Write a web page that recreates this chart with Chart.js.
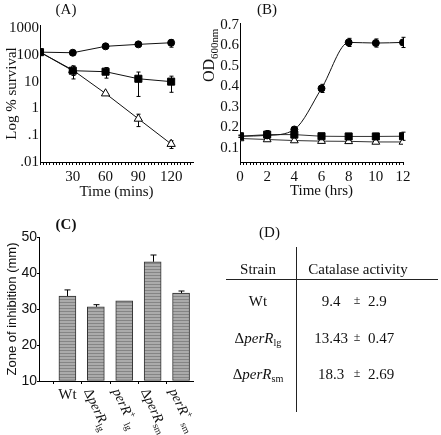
<!DOCTYPE html>
<html>
<head>
<meta charset="utf-8">
<script src="https://cdn.jsdelivr.net/npm/chart.js@4"></script>
<style>
  body { margin: 0; background: #fff; }
  #fig { position: relative; width: 441px; height: 435px; overflow: hidden; background: #fff; }
  #fig canvas { position: absolute; }
  .txt { position: absolute; white-space: nowrap; font: 15px "Liberation Serif", "Times New Roman", serif; color: #111; line-height: 1; }
  .txt sub, .txt sup { font-size: 0.68em; line-height: 0; position: relative; vertical-align: baseline; }
  .txt sub { top: 0.3em; }
  .txt sup { top: -0.45em; }
  .rule { position: absolute; background: #222; }
</style>
</head>
<body>
<div id="fig">
  <canvas id="chartA" width="220" height="210" style="left:0;top:0"></canvas>
  <canvas id="chartB" width="241" height="210" style="left:200px;top:0"></canvas>
  <canvas id="chartC" width="220" height="225" style="left:0;top:210px"></canvas>
  <div id="panelD"></div>
</div>
<script>
const SERIF = '"Liberation Serif", "Times New Roman", serif';
const SANS = '"Liberation Sans", Arial, sans-serif';

// (A) survival, log scale
const timeMins = [0, 30, 60, 90, 120];
const survCircle = [126, 120, 208, 246, 283];
const survCircleErr = [0, 0, 0, 0, 90];
const survSquare = [126, 25.6, 23.5, 12.8, 10];
const survSquareErr = [0, 13, 10, 10, 6];
const survTriangle = [126, 27, 3.6, 0.41, 0.047];
const survTriangleErr = [0, 10, 0, 0.2, 0.015];
const survTicks = [0.01, 0.1, 1, 10, 100, 1000];
const survTickLabels = ['.01', '.1', '1', '10', '100', '1000'];
const minsTickLabels = [30, 60, 90, 120];

// (B) growth curve
const timeHrs = [0, 2, 4, 6, 8, 10, 12];
const odCircle = [0.156, 0.16, 0.189, 0.39, 0.615, 0.612, 0.615];
const odCircleErr = [0.005, 0.02, 0.01, 0.02, 0.02, 0.02, 0.025];
const odSquare = [0.156, 0.164, 0.164, 0.156, 0.155, 0.155, 0.156];
const odSquareErr = [0.005, 0.02, 0.005, 0.005, 0.005, 0.015, 0.02];
const odTriangle = [0.145, 0.14, 0.135, 0.132, 0.131, 0.128, 0.128];
const odTicks = [0.1, 0.2, 0.3, 0.4, 0.5, 0.6, 0.7];
const hrsTickLabels = [0, 2, 4, 6, 8, 10, 12];

// (C) zone of inhibition
const zoneStrains = [
  [['Wt', 'r']],
  [['Δ', 'r'], ['perR', 'i'], ['lg', 'sub']],
  [['perR', 'i'], ['+', 'sup'], [' lg', 'sub']],
  [['Δ', 'r'], ['perR', 'i'], ['sm', 'sub']],
  [['perR', 'i'], ['+', 'sup'], [' sm', 'sub']],
];
const zoneMeans = [33.6, 30.6, 32.3, 43.1, 34.4];
const zoneErr = [1.7, 0.6, 0, 1.9, 0.6];
const zoneTicks = [10, 20, 30, 40, 50];

// (D) catalase table
const catStrains = [
  [['Wt', 'r']],
  [['Δ', 'r'], ['perR', 'i'], ['lg', 'sub']],
  [['Δ', 'r'], ['perR', 'i'], ['sm', 'sub']],
];
const catMeans = ['9.4', '13.43', '18.3'];
const catSd = ['2.9', '0.47', '2.69'];

function stepTicks(min, max, step) {
  const out = [];
  for (let v = min; v <= max + 1e-9; v += step) out.push({ value: Math.round(v * 1000) / 1000 });
  return out;
}

// rich text (italic / sub / sup) straight onto the canvas
function drawRich(ctx, segs, x, y, size, angle) {
  ctx.save();
  ctx.translate(x, y);
  ctx.rotate(angle || 0);
  ctx.textAlign = 'left';
  ctx.textBaseline = 'alphabetic';
  ctx.fillStyle = '#111';
  let cx = 0;
  segs.forEach(([t, s]) => {
    const small = s === 'sub' || s === 'sup';
    ctx.font = `${s === 'i' ? 'italic ' : ''}${small ? size * 0.68 : size}px ${SERIF}`;
    const dy = s === 'sub' ? size * 0.28 : s === 'sup' ? -size * 0.42 : 0;
    ctx.fillText(t, cx, dy);
    cx += ctx.measureText(t).width;
  });
  ctx.restore();
  return cx;
}

const errorBars = {
  id: 'errorBars',
  beforeDatasetsDraw(chart) {
    const { ctx } = chart;
    const y = chart.scales.y;
    chart.data.datasets.forEach((ds, di) => {
      if (!ds.errors) return;
      const meta = chart.getDatasetMeta(di);
      const cap = ds.errorCap || 2;
      ctx.save();
      ctx.strokeStyle = '#000';
      ctx.lineWidth = 1;
      ds.errors.forEach((e, i) => {
        if (!e) return;
        const v = ds.data[i].y;
        const px = Math.round(meta.data[i].x) + 0.5;
        const top = y.getPixelForValue(v + e);
        const bot = ds.errorUpOnly ? y.getPixelForValue(v) : y.getPixelForValue(Math.max(v - e, y.min));
        ctx.beginPath();
        ctx.moveTo(px, top); ctx.lineTo(px, bot);
        ctx.moveTo(px - cap, top); ctx.lineTo(px + cap, top);
        if (!ds.errorUpOnly) { ctx.moveTo(px - cap, bot); ctx.lineTo(px + cap, bot); }
        ctx.stroke();
      });
      ctx.restore();
    });
  }
};

const panelLabel = {
  id: 'panelLabel',
  afterDraw(chart, args, opts) {
    if (!opts.text) return;
    const { ctx } = chart;
    ctx.save();
    ctx.font = opts.font || `15px ${SERIF}`;
    ctx.fillStyle = '#111';
    ctx.textAlign = 'center';
    ctx.textBaseline = 'middle';
    ctx.fillText(opts.text, opts.x, opts.y);
    ctx.restore();
  }
};

function series(xs, ys, errs, style, r, fill, extra) {
  return Object.assign({
    data: xs.map((x, i) => ({ x, y: ys[i] })),
    errors: errs,
    pointStyle: style,
    pointRadius: r,
    pointBackgroundColor: fill,
    pointBorderColor: '#000',
    pointBorderWidth: 1,
    borderColor: '#111',
    borderWidth: 1,
    tension: 0,
    fill: false,
  }, extra || {});
}

function axisBase() {
  return {
    grid: { display: true, drawOnChartArea: false, drawTicks: true, tickLength: 3, color: '#000' },
    border: { display: true, color: '#000', width: 1 },
    ticks: { color: '#111', font: { family: SERIF, size: 15 }, autoSkip: false, maxRotation: 0, padding: 3 },
  };
}

const noTicks = { display: false, drawTicks: false, tickLength: 0 };

const common = {
  responsive: false,
  animation: false,
  events: [],
};

// ---------- (A)
new Chart(document.getElementById('chartA'), {
  type: 'line',
  data: {
    datasets: [
      series(timeMins, survCircle, survCircleErr, 'circle', 3.5, '#000'),
      series(timeMins, survSquare, survSquareErr, 'rect', 5, '#000'),
      series(timeMins, survTriangle, survTriangleErr, 'triangle', 4.8, '#fff'),
    ],
  },
  options: {
    ...common,
    layout: { padding: { top: 25, right: 27, left: 0, bottom: 0 } },
    plugins: { legend: { display: false }, tooltip: { enabled: false }, panelLabel: { text: '(A)', x: 66, y: 10 } },
    scales: {
      x: {
        ...axisBase(),
        type: 'linear', min: 0, max: 140,
        afterBuildTicks: (s) => { s.ticks = stepTicks(0, 140, 3); },
        ticks: { ...axisBase().ticks, callback: (v) => (minsTickLabels.includes(v) ? String(v) : '') },
        title: { display: true, text: 'Time (mins)', color: '#111', font: { family: SERIF, size: 15 }, padding: { top: 0, bottom: 9 } },
        afterFit: (s) => { s.height = 48; },
      },
      y: {
        ...axisBase(),
        type: 'logarithmic', min: 0.01, max: 1300,
        grid: noTicks,
        afterBuildTicks: (s) => { s.ticks = survTicks.map((value) => ({ value })); },
        ticks: { ...axisBase().ticks, padding: 1, callback: (v, i) => survTickLabels[i] },
        title: { display: true, text: 'Log % survival', color: '#111', font: { family: SERIF, size: 15 }, padding: { top: 3, bottom: 0 } },
        afterFit: (s) => { s.width = 40; },
      },
    },
  },
  plugins: [errorBars, panelLabel],
});

// ---------- (B)
const odTitle = {
  id: 'odTitle',
  afterDraw(chart) {
    drawRich(chart.ctx, [['OD', 'r'], ['600nm', 'sub']], 14, 82, 16, -Math.PI / 2);
  }
};

new Chart(document.getElementById('chartB'), {
  type: 'line',
  data: {
    datasets: [
      series(timeHrs, odCircle, odCircleErr, 'circle', 3.5, '#000', { cubicInterpolationMode: 'monotone' }),
      series(timeHrs, odSquare, odSquareErr, 'rect', 5, '#000', { borderColor: '#333' }),
      series(timeHrs, odTriangle, null, 'triangle', 4.5, '#fff', { borderColor: '#333' }),
    ],
  },
  options: {
    ...common,
    layout: { padding: { top: 23, right: 38, left: 0, bottom: 0 } },
    plugins: { legend: { display: false }, tooltip: { enabled: false }, panelLabel: { text: '(B)', x: 67, y: 10.5 } },
    scales: {
      x: {
        ...axisBase(),
        type: 'linear', min: 0, max: 12,
        afterBuildTicks: (s) => { s.ticks = stepTicks(0, 12, 0.25); },
        ticks: { ...axisBase().ticks, callback: (v) => (hrsTickLabels.includes(v) ? String(v) : '') },
        title: { display: true, text: 'Time (hrs)', color: '#111', font: { family: SERIF, size: 15 }, padding: { top: 0, bottom: 10 } },
        afterFit: (s) => { s.height = 48; },
      },
      y: {
        ...axisBase(),
        type: 'linear', min: 0.03, max: 0.71,
        grid: noTicks,
        afterBuildTicks: (s) => { s.ticks = odTicks.map((value) => ({ value })); },
        ticks: { ...axisBase().ticks, padding: 1, callback: (v) => v.toFixed(1) },
        afterFit: (s) => { s.width = 40; },
      },
    },
  },
  plugins: [errorBars, panelLabel, odTitle],
});

// ---------- (C)
function stripePattern() {
  const c = document.createElement('canvas');
  c.width = 4; c.height = 3;
  const g = c.getContext('2d');
  g.fillStyle = '#ababab'; g.fillRect(0, 0, 4, 3);
  g.fillStyle = '#858585'; g.fillRect(0, 2, 4, 1);
  return g.createPattern(c, 'repeat');
}

const zoneLabels = {
  id: 'zoneLabels',
  afterDraw(chart) {
    const { ctx } = chart;
    const x = chart.scales.x;
    const axisY = chart.chartArea.bottom;
    zoneStrains.forEach((segs, i) => {
      const px = x.getPixelForValue(i + 1);
      if (segs.length === 1) {
        ctx.save();
        ctx.font = `15px ${SERIF}`;
        ctx.fillStyle = '#111';
        ctx.textAlign = 'center';
        ctx.textBaseline = 'middle';
        ctx.fillText(segs[0][0], px, axisY + 14);
        ctx.restore();
      } else {
        drawRich(ctx, segs, px - 12, axisY + 10, 14, 65 * Math.PI / 180);
      }
    });
  }
};

new Chart(document.getElementById('chartC'), {
  type: 'bar',
  data: {
    datasets: [{
      data: zoneMeans.map((y, i) => ({ x: i + 1, y })),
      errors: zoneErr,
      errorUpOnly: true,
      errorCap: 3,
      backgroundColor: stripePattern(),
      borderColor: '#333',
      borderWidth: 1,
      borderSkipped: false,
      barThickness: 17,
      base: 10,
    }],
  },
  options: {
    ...common,
    layout: { padding: { top: 27, right: 27, left: 0, bottom: 0 } },
    plugins: { legend: { display: false }, tooltip: { enabled: false }, panelLabel: { text: '(C)', x: 66, y: 15, font: `bold 15px ${SERIF}` } },
    scales: {
      x: {
        ...axisBase(),
        type: 'linear', min: 0, max: 5.42, offset: false,
        afterBuildTicks: (s) => { s.ticks = zoneStrains.map((_, i) => ({ value: i + 1 })); },
        ticks: { display: false },
        afterFit: (s) => { s.height = 54; },
      },
      y: {
        ...axisBase(),
        min: 10, max: 50,
        grid: { display: true, drawOnChartArea: false, drawTicks: true, tickLength: 2, color: '#000' },
        afterBuildTicks: (s) => { s.ticks = zoneTicks.map((value) => ({ value })); },
        ticks: { color: '#111', font: { family: SANS, size: 14 }, padding: 0 },
        title: { display: true, text: 'Zone of inhibition (mm)', color: '#111', font: { family: SANS, size: 13 }, padding: { top: 5, bottom: 0 } },
        afterFit: (s) => { s.width = 39; },
      },
    },
  },
  plugins: [errorBars, panelLabel, zoneLabels],
});

// ---------- (D) table
function segHtml(segs) {
  return segs.map(([t, s]) => (s === 'i' ? `<i>${t}</i>` : s === 'sub' ? `<sub>${t}</sub>` : s === 'sup' ? `<sup>${t}</sup>` : t)).join('');
}
const panelD = document.getElementById('panelD');
function place(html, x, y, align) {
  const el = document.createElement('div');
  el.className = 'txt';
  el.innerHTML = html;
  const tx = align === 'left' ? '0' : align === 'right' ? '-100%' : '-50%';
  el.style.left = x + 'px';
  el.style.top = y + 'px';
  el.style.transform = `translate(${tx}, -50%)`;
  panelD.appendChild(el);
  return el;
}
function rule(x, y, w, h) {
  const el = document.createElement('div');
  el.className = 'rule';
  Object.assign(el.style, { left: x + 'px', top: y + 'px', width: w + 'px', height: h + 'px' });
  panelD.appendChild(el);
}
place('(D)', 269.5, 232);
place('Strain', 258, 269);
place('Catalase activity', 358, 269);
rule(296, 247, 1, 165);
rule(226, 279, 212, 1);
catStrains.forEach((segs, i) => {
  const y = 301 + i * 36.5;
  place(segHtml(segs), 258, y);
  place(catMeans[i], 331, y);
  place('±', 357, y - 1).style.fontSize = '12px';
  place(catSd[i], 368, y, 'left');
});
</script>
</body>
</html>
